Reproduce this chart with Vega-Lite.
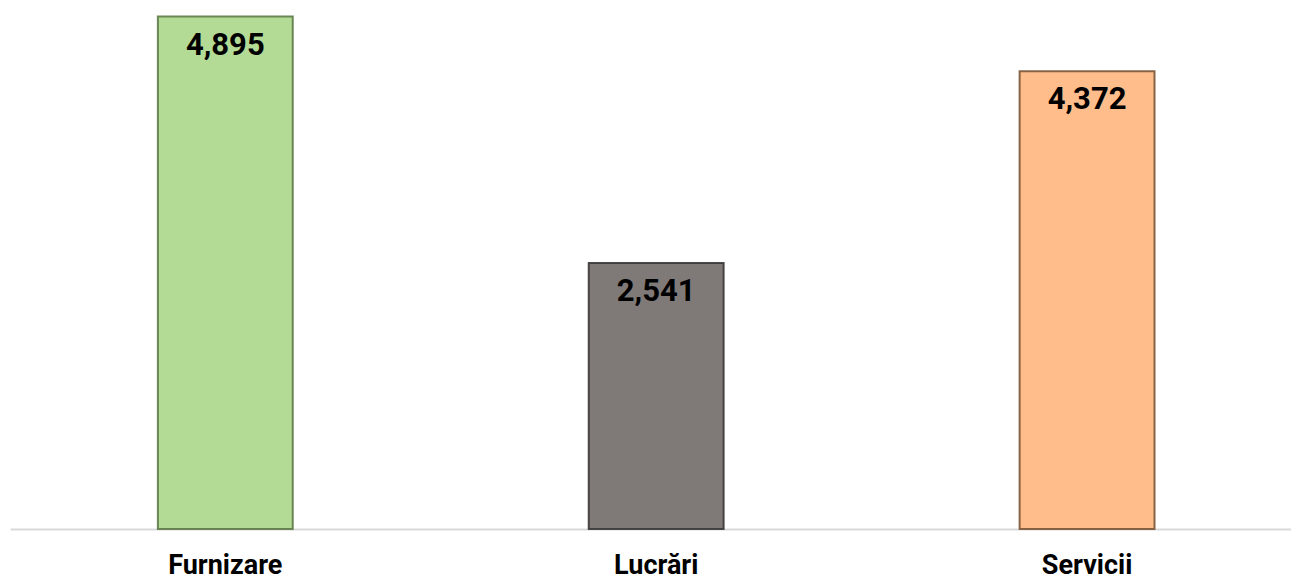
{
  "$schema": "https://vega.github.io/schema/vega-lite/v6.json",
  "width": 1281,
  "height": 529,
  "autosize": {"type": "none"},
  "padding": {"left": 10, "top": 0, "right": 0, "bottom": 50},
  "background": "#ffffff",
  "config": {"view": {"stroke": null}},
  "data": {
    "values": [
      {"categorie": "Furnizare", "valoare": 4895},
      {"categorie": "Lucrări", "valoare": 2541},
      {"categorie": "Servicii", "valoare": 4372}
    ]
  },
  "encoding": {
    "x": {
      "field": "categorie",
      "type": "nominal",
      "sort": null,
      "scale": {"paddingInner": 0.687, "paddingOuter": 0.33, "align": 0.52},
      "axis": {
        "title": null,
        "domainColor": "#d9d9d9",
        "domainWidth": 2,
        "ticks": false,
        "tickSize": 0,
        "labelPadding": 23,
        "labelFont": "Roboto",
        "labelFontSize": 27,
        "labelFontWeight": "bold",
        "labelColor": "#000000",
        "labelAngle": 0
      }
    },
    "y": {
      "field": "valoare",
      "type": "quantitative",
      "scale": {"domain": [0, 5053], "nice": false},
      "axis": null
    }
  },
  "layer": [
    {
      "mark": {"type": "bar", "strokeWidth": 2, "strokeOpacity": 0.9},
      "encoding": {
        "color": {
          "field": "categorie",
          "type": "nominal",
          "scale": {"domain": ["Furnizare", "Lucrări", "Servicii"], "range": ["#b3db95", "#7f7a78", "#ffbd8c"]},
          "legend": null
        },
        "stroke": {
          "field": "categorie",
          "type": "nominal",
          "scale": {"domain": ["Furnizare", "Lucrări", "Servicii"], "range": ["#5d7a48", "#3a3736", "#7a5535"]},
          "legend": null
        }
      }
    },
    {
      "mark": {
        "type": "text",
        "baseline": "middle",
        "dy": 29,
        "font": "Roboto",
        "fontSize": 31,
        "fontWeight": "bold",
        "color": "#000000"
      },
      "encoding": {
        "text": {"field": "valoare", "type": "quantitative", "format": ",d"}
      }
    }
  ]
}
